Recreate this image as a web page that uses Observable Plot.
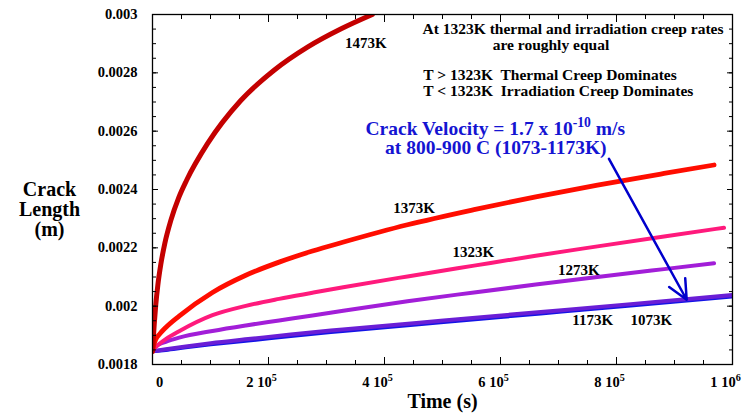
<!DOCTYPE html>
<html><head><meta charset="utf-8">
<script src="https://cdn.jsdelivr.net/npm/d3@7"></script>
<script src="https://cdn.jsdelivr.net/npm/@observablehq/plot@0.6"></script>
<style>body{margin:0;background:#fff;}</style>
</head><body><div id="chart"></div>
<script>
// ---- data (time in s, crack length in m) ----
const t1473 = [0, 1030, 3100, 5690, 9140, 14300, 21200, 31600, 45400, 58600, 94800, 152200, 209100, 267200, 325300, 379000];
const l1473 = [0.001845, 0.001879, 0.001941, 0.002006, 0.002071, 0.002143, 0.002215, 0.002294, 0.002373, 0.002431, 0.002557, 0.002705, 0.002808, 0.002888, 0.002951, 0.003];
const t1373 = [0, 2240, 5690, 12600, 22900, 45900, 103400, 160900, 218300, 275800, 328000, 439600, 554400, 660800, 767200, 882000, 968200];
const l1373 = [0.001845, 0.001867, 0.001886, 0.001905, 0.001927, 0.001966, 0.002047, 0.002106, 0.002151, 0.002189, 0.002219, 0.002279, 0.002331, 0.002375, 0.002415, 0.002455, 0.002484];
const t1323 = [0, 2240, 5690, 12600, 22900, 45900, 103400, 160900, 218300, 275800, 328900, 439600, 554400, 660800, 767200, 882000, 985400];
const l1323 = [0.001845, 0.001853, 0.00186, 0.001872, 0.001887, 0.001914, 0.001969, 0.002001, 0.002025, 0.002046, 0.002065, 0.002102, 0.002139, 0.002173, 0.002205, 0.002239, 0.002269];
const t1273 = [0, 5690, 12600, 22900, 45900, 103400, 160900, 218300, 275800, 328900, 439600, 554400, 660800, 767200, 882000, 968200];
const l1273 = [0.001845, 0.001861, 0.00187, 0.001878, 0.001892, 0.001915, 0.001934, 0.001951, 0.001968, 0.001984, 0.002017, 0.002047, 0.002074, 0.0021, 0.002127, 0.002147];
const t1173 = [0, 22900, 57400, 100500, 169400, 238400, 328000, 497000, 669400, 824600, 1000000];
const l1173 = [0.001845, 0.001852, 0.001862, 0.001873, 0.001888, 0.001903, 0.00192, 0.00195, 0.00198, 0.002007, 0.002038];
const t1073 = [0, 22900, 57400, 100500, 169400, 238400, 328000, 497000, 669400, 824600, 1000000];
const l1073 = [0.001845, 0.00185, 0.001859, 0.001869, 0.001883, 0.001898, 0.001915, 0.001945, 0.001975, 0.002002, 0.002033];

const seriesNames = ["1073K", "1173K", "1273K", "1323K", "1373K", "1473K"];
const seriesT = [t1073, t1173, t1273, t1323, t1373, t1473];
const seriesL = [l1073, l1173, l1273, l1323, l1373, l1473];

// curve labels
const labelText = ["1473K", "1373K", "1323K", "1273K", "1173K", "1073K"];
const labelX = [368000, 451000, 553000, 735000, 759000, 860000];
const labelY = [0.002903, 0.002336, 0.002185, 0.002125, 0.001952, 0.001952];

// annotations
const noteText = ["At 1323K thermal and irradiation creep rates", "are roughly equal"];
const noteX = [725000, 687000];
const noteY = [0.00295, 0.002894];
const ruleText = ["T > 1323K  Thermal Creep Dominates", "T < 1323K  Irradiation Creep Dominates"];
const ruleX = [467000, 467000];
const ruleY = [0.002792, 0.002738];
const blueText = ["Crack Velocity = 1.7 x 10^{-10} m/s", "at 800-900 C (1073-1173K)"];
const blueX = [591000, 592000];
const blueY = [0.002608, 0.002542];
const arrowX = [787000, 921000];
const arrowY = [0.002505, 0.002022];

// ticks
const xTicks = [0, 200000, 400000, 600000, 800000, 1000000];
const xTickLabels = ["0", "2 10^{5}", "4 10^{5}", "6 10^{5}", "8 10^{5}", "1 10^{6}"];
const yTicks = [0.0018, 0.002, 0.0022, 0.0024, 0.0026, 0.0028, 0.003];
const yTickLabels = ["0.0018", "0.002", "0.0022", "0.0024", "0.0026", "0.0028", "0.003"];
const xMinor = d3.range(0, 21).map(i => i * 50000);
const yMinor = d3.range(0, 25).map(i => 0.0018 + i * 0.00005);

// styles
const colors = {"1073K": "#1414e6", "1173K": "#6a1ed6", "1273K": "#a21ed8", "1323K": "#ff1a7c", "1373K": "#ff0d00", "1473K": "#c40000"};
const widths = {"1073K": 4, "1173K": 4, "1273K": 4, "1323K": 4, "1373K": 4.8, "1473K": 5};

const lineMarks = seriesNames.map((name, k) => {
  const rows = seriesT[k].map((t, i) => ({t, len: seriesL[k][i]}));
  return Plot.line(rows, {x: "t", y: "len", stroke: colors[name], strokeWidth: widths[name], curve: "monotone-x", clip: true});
});

const tickOpts = {fill: "none", label: null, stroke: "black", strokeWidth: 1};

const chart = Plot.plot({
  width: 754,
  height: 418,
  marginLeft: 152,
  marginRight: 22,
  marginTop: 14,
  marginBottom: 54,
  x: {domain: [0, 1000000]},
  y: {domain: [0.0018, 0.003]},
  style: {fontFamily: "'Liberation Serif', 'Times New Roman', serif", fontWeight: "bold", fontSize: "14.5px", background: "white", color: "black"},
  marks: [
    ...lineMarks,
    // inward ticks
    Plot.axisX(xTicks, {anchor: "bottom", tickSize: -7, ...tickOpts}),
    Plot.axisX(xMinor, {anchor: "bottom", tickSize: -4, ...tickOpts}),
    Plot.axisX(xTicks, {anchor: "top", tickSize: -7, ...tickOpts}),
    Plot.axisX(xMinor, {anchor: "top", tickSize: -4, ...tickOpts}),
    Plot.axisY(yTicks, {anchor: "left", tickSize: -6, ...tickOpts}),
    Plot.axisY(yMinor, {anchor: "left", tickSize: -4, ...tickOpts}),
    Plot.axisY(yTicks, {anchor: "right", tickSize: -6, ...tickOpts}),
    Plot.axisY(yMinor, {anchor: "right", tickSize: -4, ...tickOpts}),
    // tick labels
    Plot.axisX([xTicks[0]], {anchor: "bottom", tickSize: 0, tickPadding: 12, dx: 7, label: null, fontSize: 14.5, tickFormat: d => xTickLabels[xTicks.indexOf(d)]}),
    Plot.axisX(xTicks.slice(1), {anchor: "bottom", tickSize: 0, tickPadding: 12, dx: -7, label: null, fontSize: 14.5, tickFormat: d => xTickLabels[xTicks.indexOf(d)]}),
    Plot.axisY(yTicks, {anchor: "left", tickSize: 0, tickPadding: 15, label: null, fontSize: 14.5, tickFormat: d => yTickLabels[yTicks.indexOf(d)]}),
    Plot.frame({stroke: "black", strokeWidth: 1.3}),
    // axis titles
    Plot.text(["Crack\nLength\n(m)"], {frameAnchor: "left", textAnchor: "middle", dx: -103, dy: 20, fontSize: 20, lineHeight: 1.0, fill: "black"}),
    Plot.text(["Time (s)"], {frameAnchor: "bottom", dy: 43, fontSize: 20, fill: "black"}),
    // curve labels
    Plot.text(labelText, {x: (d, i) => labelX[i], y: (d, i) => labelY[i], text: d => d, fontSize: 15, fill: "black"}),
    // annotations
    Plot.text(noteText, {x: (d, i) => noteX[i], y: (d, i) => noteY[i], text: d => d, fontSize: 15.5, fill: "black"}),
    Plot.text(ruleText, {x: (d, i) => ruleX[i], y: (d, i) => ruleY[i], text: d => d, fontSize: 15.5, fill: "black", textAnchor: "start"}),
    Plot.text(blueText, {x: (d, i) => blueX[i], y: (d, i) => blueY[i], text: d => d, fontSize: 19.5, fill: "#1414d2"}),
    Plot.arrow([0], {x1: () => arrowX[0], y1: () => arrowY[0], x2: () => arrowX[1], y2: () => arrowY[1], stroke: "#0000cc", strokeWidth: 2.5, headLength: 13, headAngle: 50})
  ]
});

document.getElementById("chart").appendChild(chart);

// convert ^{...} into superscript tspans
function convertSup(el) {
  const s = el.textContent;
  if (!s.includes("^{")) return;
  const fs = parseFloat(getComputedStyle(el).fontSize) || 14;
  const parts = s.split(/\^\{([^}]*)\}/);
  el.textContent = "";
  const ns = "http://www.w3.org/2000/svg";
  parts.forEach((p, i) => {
    if (p === "" && i % 2 === 0 && i > 0 && i === parts.length - 1) return;
    const ts = document.createElementNS(ns, "tspan");
    ts.textContent = p;
    if (i % 2 === 1) {
      ts.setAttribute("dy", (-0.42 * fs).toFixed(2));
      ts.style.fontSize = (0.7 * fs).toFixed(2) + "px";
    } else if (i > 0) {
      ts.setAttribute("dy", (0.42 * fs).toFixed(2));
    }
    el.appendChild(ts);
  });
}
chart.querySelectorAll("text").forEach(t => {
  if (t.querySelector("tspan")) t.querySelectorAll("tspan").forEach(convertSup);
  else convertSup(t);
});
</script></body></html>
